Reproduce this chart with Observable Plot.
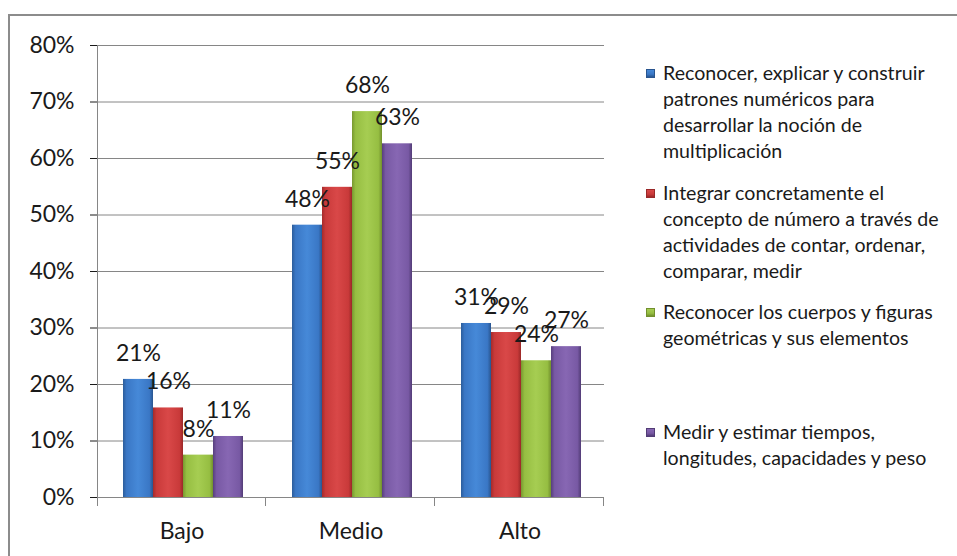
<!DOCTYPE html>
<html><head><meta charset="utf-8">
<script src="https://cdn.jsdelivr.net/npm/d3@7"></script>
<script src="https://cdn.jsdelivr.net/npm/@observablehq/plot@0.6"></script>
<style>
body{margin:0;background:#fff;}
#wrap{position:relative;width:957px;height:556px;overflow:hidden;font-family:Lato,sans-serif;background:#fff;}
#wrap svg{position:absolute;left:0;top:0;}
#frame{position:absolute;left:8px;top:14px;width:1000px;height:600px;border-top:2px solid #8c8c8c;border-left:2px solid #8c8c8c;pointer-events:none;}
#legend{position:absolute;left:646px;top:0;}
.item{position:absolute;left:0;width:310px;font-size:19.6px;line-height:26px;color:#1a1a1a;padding-left:17px;white-space:nowrap;}
.sw{position:absolute;left:0;top:9px;width:9px;height:9px;box-sizing:border-box;}
</style></head>
<body>
<div id="wrap"><div id="frame"></div><div id="legend"></div></div>
<script>
const categories = ["Bajo", "Medio", "Alto"];
const seriesKeys = ["s1", "s2", "s3", "s4"];
const seriesLabels = [
  ["Reconocer, explicar y construir", "patrones numéricos para", "desarrollar la noción de", "multiplicación"],
  ["Integrar concretamente el", "concepto de número a través de", "actividades de contar, ordenar,", "comparar, medir"],
  ["Reconocer los cuerpos y figuras", "geométricas y sus elementos"],
  ["Medir y estimar tiempos,", "longitudes, capacidades y peso"]
];
// values (%) per series, in category order Bajo, Medio, Alto
const reconocerPatrones = [20.9, 48.2, 30.8];
const integrarNumero   = [15.85, 54.9, 29.2];
const cuerposFiguras   = [7.5, 68.3, 24.2];
const medirEstimar     = [10.8, 62.6, 26.7];
const yTicks = [0, 10, 20, 30, 40, 50, 60, 70, 80];
const gradients = [
  ["#2c5d9b", "#3a77c5", "#4689d8", "#3a77c5", "#29558f"],
  ["#a52b2b", "#c93a3a", "#d94848", "#c93a3a", "#9a2828"],
  ["#789830", "#96be42", "#a6cd52", "#96be42", "#72902d"],
  ["#573f7d", "#7859a4", "#8767b3", "#7859a4", "#523c76"]
];

const seriesValues = [reconocerPatrones, integrarNumero, cuerposFiguras, medirEstimar];
const data = [];
categories.forEach((c, ci) => seriesKeys.forEach((k, si) => data.push({cat: c, key: k, value: seriesValues[si][ci]})));

const plot = Plot.plot({
  width: 957, height: 556,
  marginTop: 45, marginBottom: 59, marginLeft: 96, marginRight: 353,
  style: {fontFamily: "Lato, sans-serif", fontSize: "23px", color: "#1a1a1a", background: "transparent"},
  fx: {domain: categories, padding: 0, axis: "bottom", tickSize: 0, tickPadding: 25, label: null},
  x: {domain: seriesKeys, paddingInner: 0, paddingOuter: 0.75, align: 0.54, axis: null},
  y: {domain: [0, 80], ticks: yTicks, tickFormat: d => d + "%", tickSize: 7, tickPadding: 16, label: null, grid: false},
  color: {domain: seriesKeys, range: seriesKeys.map((k, i) => `url(#grad${i})`)},
  marks: [
    Plot.gridY(yTicks, {stroke: "#868686", strokeOpacity: 1, strokeWidth: 1}),
    Plot.barY(data, {fx: "cat", x: "key", y: "value", fill: "key", inset: 0}),
    Plot.ruleY([0], {stroke: "#868686", strokeWidth: 1}),
    Plot.text(data, {fx: "cat", x: "key", y: "value", text: d => Math.round(d.value) + "%", dy: -26, fontSize: 23, lineAnchor: "middle", fill: "#1a1a1a"})
  ]
});

// gradient definitions for the bevelled bars
const svg = d3.select(plot);
const defs = svg.insert("defs", ":first-child");
gradients.forEach((stops, i) => {
  const g = defs.append("linearGradient").attr("id", `grad${i}`).attr("x1", 0).attr("x2", 1).attr("y1", 0).attr("y2", 0);
  [0, 0.12, 0.5, 0.88, 1].forEach((o, j) => g.append("stop").attr("offset", o).attr("stop-color", stops[j]));
});

// y-axis line and category boundary ticks, placed with the plot's own scales
const fxs = plot.scale("fx"), ys = plot.scale("y");
const bounds = categories.map(c => fxs.apply(c));
bounds.push(fxs.apply(categories[categories.length - 1]) + fxs.bandwidth);
const y0 = ys.apply(0), yTop = ys.apply(80);
const ax = svg.append("g").attr("stroke", "#868686").attr("stroke-width", 1);
ax.append("line").attr("x1", bounds[0] + 0.5).attr("x2", bounds[0] + 0.5).attr("y1", yTop).attr("y2", y0 + 9);
bounds.slice(1).forEach(b => ax.append("line").attr("x1", b - 0.5).attr("x2", b - 0.5).attr("y1", y0).attr("y2", y0 + 9));

document.getElementById("wrap").appendChild(plot);

// legend
const legend = document.getElementById("legend");
const legendTops = [60, 179.5, 299, 418.5];
seriesLabels.forEach((lines, i) => {
  const item = document.createElement("div");
  item.className = "item";
  item.style.top = legendTops[i] + "px";
  const sw = document.createElement("div");
  sw.className = "sw";
  const st = gradients[i];
  sw.style.background = `linear-gradient(180deg, ${st[2]}, ${st[1]} 60%, ${st[4]})`;
  sw.style.border = `1px solid ${st[4]}`;
  item.appendChild(sw);
  lines.forEach((l, j) => {
    if (j) item.appendChild(document.createElement("br"));
    item.appendChild(document.createTextNode(l));
  });
  legend.appendChild(item);
});
</script>
</body></html>
